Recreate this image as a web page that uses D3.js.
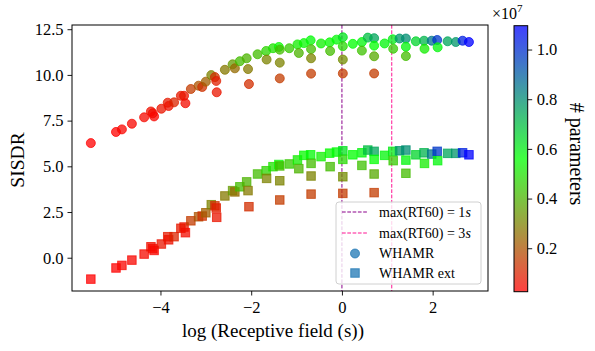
<!DOCTYPE html>
<html>
<head>
<meta charset="utf-8">
<script src="https://cdn.jsdelivr.net/npm/d3@7"></script>
<style>
  body { margin: 0; background: #fff; }
  text { font-family: "Liberation Serif", "DejaVu Serif", serif; fill: #000; }
</style>
</head>
<body>
<div id="chart"></div>
<script>
// log of receptive field (s), one entry per model
const logRF = [-5.535, -4.98, -4.85, -4.63, -4.36, -4.21, -4.17, -4.14, -3.98, -3.84,
    -3.82, -3.70, -3.55, -3.48, -3.45, -3.33, -3.16, -3.08, -3.00, -2.88,
    -2.80, -2.77, -2.76, -2.58, -2.41, -2.36, -2.25, -2.10, -2.07, -2.05,
    -1.86, -1.67, -1.66, -1.52, -1.39, -1.37, -1.37, -1.37, -1.16, -0.98,
    -0.95, -0.84, -0.69, -0.68, -0.68, -0.68, -0.46, -0.27, -0.26, -0.12,
    0.02, 0.02, 0.02, 0.02, 0.24, 0.44, 0.44, 0.57, 0.71, 0.71,
    0.71, 0.71, 0.94, 1.12, 1.13, 1.27, 1.41, 1.41, 1.41, 1.63,
    1.81, 1.82, 1.98, 2.10, 2.11, 2.33, 2.51, 2.66, 2.80];

const sisdrWhamr = [6.27, 6.88, 7.02, 7.33, 7.68, 8.00, 7.90, 7.73, 8.15, 8.48,
    8.30, 8.50, 8.86, 8.86, 8.45, 9.23, 9.41, 9.34, 9.63, 9.99,
    9.88, 9.67, 9.05, 10.28, 10.58, 10.36, 10.75, 10.91, 10.32, 9.50,
    11.13, 11.31, 10.84, 11.46, 11.53, 11.38, 10.67, 9.81, 11.46, 11.67,
    11.20, 11.74, 11.89, 11.41, 10.91, 10.07, 11.72, 11.78, 11.31, 11.93,
    12.06, 11.57, 10.84, 10.08, 11.70, 11.80, 11.33, 12.04, 12.01, 11.60,
    11.02, 10.08, 11.72, 11.95, 11.43, 11.99, 11.99, 11.54, 11.03, 11.84,
    11.87, 11.43, 11.87, 11.91, 11.51, 11.84, 11.80, 11.87, 11.80];

const sisdrWhamrExt = [-1.17, -0.56, -0.42, -0.13, 0.20, 0.60, 0.50, 0.40, 0.75, 1.15,
    0.98, 1.15, 1.61, 1.68, 1.37, 2.02, 2.24, 2.28, 2.46, 2.90,
    2.84, 2.72, 2.21, 3.38, 3.67, 3.60, 3.88, 4.15, 3.67, 2.79,
    4.58, 4.76, 4.34, 4.98, 5.10, 5.02, 4.21, 3.16, 5.13, 5.35,
    4.87, 5.60, 5.63, 5.16, 4.47, 3.48, 5.53, 5.72, 4.98, 5.78,
    5.85, 5.38, 4.43, 3.52, 5.63, 5.74, 5.05, 5.89, 5.82, 5.38,
    4.58, 3.56, 5.60, 5.82, 5.31, 5.85, 5.89, 5.34, 4.62, 5.63,
    5.74, 5.16, 5.67, 5.82, 5.31, 5.71, 5.71, 5.74, 5.63];

// number of parameters, in units of 1e7
const paramsE7 = [0.025, 0.03, 0.035, 0.04, 0.045, 0.06, 0.05, 0.04, 0.07, 0.08,
    0.06, 0.10, 0.08, 0.07, 0.05, 0.15, 0.20, 0.13, 0.22, 0.30,
    0.13, 0.09, 0.07, 0.28, 0.35, 0.25, 0.42, 0.40, 0.28, 0.12,
    0.42, 0.47, 0.30, 0.50, 0.55, 0.42, 0.30, 0.15, 0.45, 0.52,
    0.40, 0.55, 0.57, 0.42, 0.30, 0.15, 0.53, 0.55, 0.42, 0.57,
    0.62, 0.48, 0.32, 0.15, 0.56, 0.58, 0.43, 0.70, 0.75, 0.56,
    0.38, 0.15, 0.58, 0.60, 0.45, 0.78, 0.80, 0.58, 0.42, 0.65,
    0.72, 0.52, 0.85, 0.98, 0.58, 0.75, 0.78, 1.03, 1.096];

const rt60 = [1, 3];
const rt60Labels = ["max(RT60) = 1", "max(RT60) = 3"];
const rt60Colors = ["#8b008b", "#ff1493"];

const xTicks = [-4, -2, 0, 2];
const yTicks = [0, 2.5, 5, 7.5, 10, 12.5];
const cbTicks = [0.2, 0.4, 0.6, 0.8, 1.0];

const width = 595, height = 351;
const alpha = 0.75;
const serif = "'Liberation Serif', 'DejaVu Serif', serif";

var svg = d3.select("#chart").append("svg")
    .attr("width", width)
    .attr("height", height);

var x = d3.scaleLinear().domain([-5.95, 3.22]).range([72, 488]);
var y = d3.scaleLinear().domain([-1.82, 12.73]).range([291, 25]);

var pExtent = d3.extent(paramsE7);
var color = d3.scaleLinear()
    .domain([pExtent[0], (pExtent[0] + pExtent[1]) / 2, pExtent[1]])
    .range(["#ff0000", "#00ff00", "#0000ff"]);

// vertical reverberation lines
rt60.forEach(function (r, i) {
    svg.append("line")
        .attr("x1", x(Math.log(r))).attr("x2", x(Math.log(r)))
        .attr("y1", 25).attr("y2", 291)
        .attr("stroke", rt60Colors[i])
        .attr("stroke-width", 1)
        .attr("stroke-dasharray", "3.7,1.6");
});

var models = logRF.map(function (d, i) {
    return {x: d, wh: sisdrWhamr[i], ext: sisdrWhamrExt[i], p: paramsE7[i]};
});

svg.append("g").selectAll("circle")
    .data(models)
    .enter()
    .append("circle")
    .attr("cx", d => x(d.x))
    .attr("cy", d => y(d.wh))
    .attr("r", 4.5)
    .attr("fill", d => color(d.p))
    .attr("fill-opacity", alpha)
    .attr("stroke", d => color(d.p))
    .attr("stroke-opacity", alpha)
    .attr("stroke-width", 1);

var sq = 8.5;
svg.append("g").selectAll("rect")
    .data(models)
    .enter()
    .append("rect")
    .attr("x", d => x(d.x) - sq / 2)
    .attr("y", d => y(d.ext) - sq / 2)
    .attr("width", sq)
    .attr("height", sq)
    .attr("fill", d => color(d.p))
    .attr("fill-opacity", alpha)
    .attr("stroke", d => color(d.p))
    .attr("stroke-opacity", alpha)
    .attr("stroke-width", 1);

// axes
var xAxis = svg.append("g")
    .attr("transform", "translate(0,291)")
    .call(d3.axisBottom(x).tickValues(xTicks).tickSizeOuter(0).tickSize(4.5).tickPadding(6));
var yAxis = svg.append("g")
    .attr("transform", "translate(72,0)")
    .call(d3.axisLeft(y).tickValues(yTicks).tickFormat(d3.format(".1f")).tickSizeOuter(0).tickSize(4.5).tickPadding(4));
[xAxis, yAxis].forEach(function (a) {
    a.attr("font-family", serif).attr("font-size", 16.5);
    a.select(".domain").remove();
    a.selectAll("text").style("font-family", serif).style("font-size", "16.5px");
    a.selectAll("line").attr("stroke", "#000").attr("stroke-width", 0.9);
});

svg.append("rect")
    .attr("x", 72).attr("y", 25)
    .attr("width", 416).attr("height", 266)
    .attr("fill", "none")
    .attr("stroke", "#000")
    .attr("stroke-width", 1);

svg.append("text")
    .attr("x", 273).attr("y", 337)
    .attr("text-anchor", "middle")
    .style("font-size", "19px")
    .text("log (Receptive field (s))");

svg.append("text")
    .attr("transform", "translate(23.5,160) rotate(-90)")
    .attr("text-anchor", "middle")
    .style("font-size", "19.5px")
    .text("SISDR");

// legend
var legend = svg.append("g");
legend.append("rect")
    .attr("x", 336).attr("y", 202)
    .attr("width", 145).attr("height", 82)
    .attr("rx", 3)
    .attr("fill", "#fff").attr("fill-opacity", 0.8)
    .attr("stroke", "#d0d0d0").attr("stroke-width", 1);

var legendY = [212, 233, 253.5, 273];
rt60Labels.forEach(function (lab, i) {
    legend.append("line")
        .attr("x1", 342).attr("x2", 368)
        .attr("y1", legendY[i]).attr("y2", legendY[i])
        .attr("stroke", rt60Colors[i])
        .attr("stroke-width", 1)
        .attr("stroke-dasharray", "3.7,1.6");
    var t = legend.append("text")
        .attr("x", 379).attr("y", legendY[i] + 4.5)
        .style("font-size", "14px");
    t.append("tspan").text(lab);
    t.append("tspan").style("font-style", "italic").text("s");
});
legend.append("circle")
    .attr("cx", 355).attr("cy", legendY[2]).attr("r", 4.5)
    .attr("fill", "#1f77b4").attr("fill-opacity", alpha)
    .attr("stroke", "#1f77b4").attr("stroke-opacity", alpha);
legend.append("rect")
    .attr("x", 350.75).attr("y", legendY[3] - 4.25).attr("width", 8.5).attr("height", 8.5)
    .attr("fill", "#1f77b4").attr("fill-opacity", alpha)
    .attr("stroke", "#1f77b4").attr("stroke-opacity", alpha);
legend.append("text").attr("x", 379).attr("y", legendY[2] + 4.5)
    .style("font-size", "14px").text("WHAMR");
legend.append("text").attr("x", 379).attr("y", legendY[3] + 4.5)
    .style("font-size", "14px").text("WHAMR ext");

// colorbar
var cb = d3.scaleLinear().domain(pExtent).range([291.7, 25.7]);
var grad = svg.append("defs").append("linearGradient")
    .attr("id", "cbgrad")
    .attr("x1", 0).attr("y1", 1).attr("x2", 0).attr("y2", 0);
[0, 0.5, 1].forEach(function (t) {
    grad.append("stop")
        .attr("offset", t)
        .attr("stop-color", color(pExtent[0] + t * (pExtent[1] - pExtent[0])))
        .attr("stop-opacity", alpha);
});
svg.append("rect")
    .attr("x", 514).attr("y", 25.7)
    .attr("width", 13.7).attr("height", 266)
    .attr("fill", "url(#cbgrad)")
    .attr("stroke", "#000").attr("stroke-width", 1);
var cbAxis = svg.append("g")
    .attr("transform", "translate(527.7,0)")
    .call(d3.axisRight(cb).tickValues(cbTicks).tickFormat(d3.format(".1f")).tickSizeOuter(0).tickSize(4.5).tickPadding(4.5));
cbAxis.attr("font-family", serif).attr("font-size", 16.5);
cbAxis.select(".domain").remove();
cbAxis.selectAll("text").style("font-family", serif).style("font-size", "16.5px");
cbAxis.selectAll("line").attr("stroke", "#000").attr("stroke-width", 0.9);

var mult = svg.append("text").attr("x", 492).attr("y", 19).style("font-size", "16px");
mult.append("tspan").text("\u00d710");
mult.append("tspan").attr("dy", -7).style("font-size", "11px").text("7");

svg.append("text")
    .attr("transform", "translate(570,154) rotate(90)")
    .attr("text-anchor", "middle")
    .style("font-size", "20px")
    .text("# parameters");
</script>
</body>
</html>
